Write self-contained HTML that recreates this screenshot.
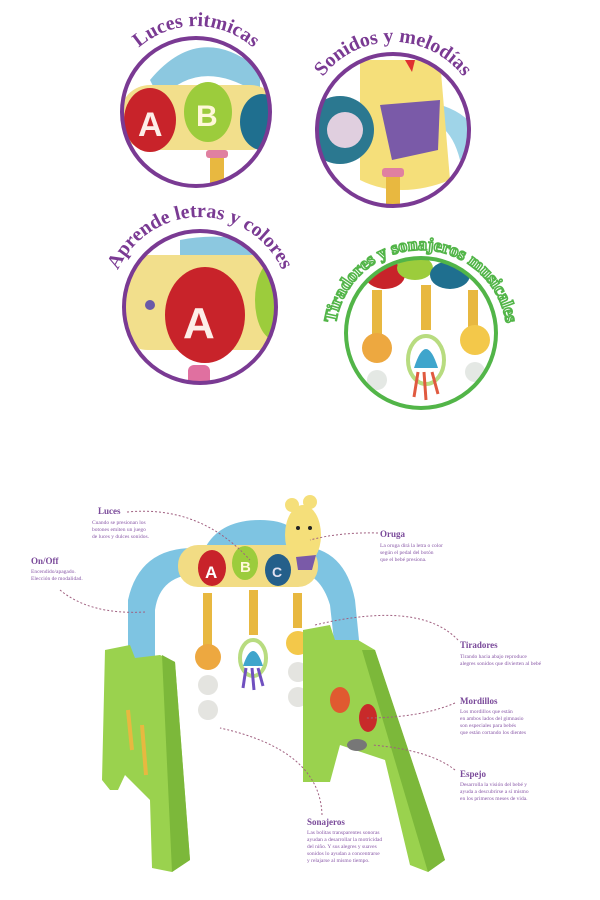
<!DOCTYPE html>
<html><head><meta charset="utf-8"><style>
html,body{margin:0;padding:0;background:#fff;}
svg{display:block}
.t{font-family:"Liberation Serif",serif;font-weight:bold;fill:#7a3a93;}
.h{font-family:"Liberation Serif",serif;font-weight:bold;fill:#7a4a9a;font-size:9px}
.s{font-family:"Liberation Serif",serif;fill:#8a5aa8;font-size:5.5px}
.d{fill:none;stroke:#a06080;stroke-width:1;stroke-dasharray:2 2}
</style></head><body>
<svg width="600" height="900" viewBox="0 0 600 900" xmlns="http://www.w3.org/2000/svg">
<defs>
<path id="a1" d="M110,112 A86,86 0 0 1 282,112"/>
<path id="a2" d="M305,130 A88,88 0 0 1 481,130"/>
<path id="a3" d="M122,352 A90,90 0 1 1 278,352"/>
<path id="a4" d="M346,378 A86,86 0 1 1 496,378"/>
<clipPath id="c1"><circle cx="196" cy="112" r="73"/></clipPath>
<clipPath id="c2"><circle cx="393" cy="130" r="76"/></clipPath>
<clipPath id="c3"><circle cx="200" cy="307" r="76"/></clipPath>
<clipPath id="c4"><circle cx="421" cy="333" r="75"/></clipPath>
</defs>

<!-- circle 1 -->
<g clip-path="url(#c1)">
<rect x="110" y="30" width="180" height="170" fill="#fff"/>
<path d="M150,80 Q200,20 260,70 L260,95 Q200,55 160,100Z" fill="#8cc8e0"/>
<rect x="120" y="85" width="160" height="65" rx="30" fill="#f2df8c"/>
<ellipse cx="150" cy="120" rx="26" ry="32" fill="#c8232a"/>
<ellipse cx="208" cy="112" rx="24" ry="30" fill="#9ccc3c"/>
<ellipse cx="262" cy="122" rx="22" ry="28" fill="#1f6f8f"/>
<text x="138" y="136" font-family="Liberation Sans" font-weight="bold" font-size="34" fill="#fdeee8">A</text>
<text x="196" y="126" font-family="Liberation Sans" font-weight="bold" font-size="30" fill="#fff8d8">B</text>
<rect x="210" y="155" width="14" height="40" fill="#e8b840"/>
<rect x="206" y="150" width="22" height="8" rx="3" fill="#e080a0"/>
</g>
<circle cx="196" cy="112" r="74" fill="none" stroke="#7a3a93" stroke-width="4"/>
<text class="t" font-size="20"><textPath href="#a1" startOffset="50%" text-anchor="middle">Luces ritmicas</textPath></text>

<!-- circle 2 -->
<g clip-path="url(#c2)">
<rect x="310" y="50" width="170" height="170" fill="#fff"/>
<path d="M420,100 Q480,110 480,150 L460,160 Q450,120 420,120Z" fill="#9fd4e8"/>
<path d="M360,60 L440,60 L450,180 Q400,200 360,180Z" fill="#f5df7a"/>
<circle cx="340" cy="130" r="34" fill="#2b7890"/>
<circle cx="345" cy="130" r="18" fill="#f4d8e8" opacity="0.9"/>
<path d="M380,105 L440,100 L438,150 L392,160Z" fill="#7a5aa8"/>
<path d="M405,60 l10,0 l-3,12 z" fill="#e03030"/>
<rect x="386" y="175" width="14" height="40" fill="#e8b840"/>
<rect x="382" y="168" width="22" height="9" rx="3" fill="#e080a0"/>
</g>
<circle cx="393" cy="130" r="76" fill="none" stroke="#7a3a93" stroke-width="4"/>
<text class="t" font-size="20"><textPath href="#a2" startOffset="50%" text-anchor="middle">Sonidos y melodías</textPath></text>

<!-- circle 3 -->
<g clip-path="url(#c3)">
<rect x="120" y="225" width="170" height="170" fill="#fff"/>
<path d="M180,240 Q230,230 280,250 L280,270 Q230,255 180,260Z" fill="#8cc8e0"/>
<rect x="118" y="255" width="170" height="95" rx="30" fill="#f2df8c"/>
<ellipse cx="205" cy="315" rx="40" ry="48" fill="#c8232a"/>
<ellipse cx="275" cy="300" rx="20" ry="40" fill="#9ccc3c"/>
<circle cx="150" cy="305" r="5" fill="#6a5aa8"/>
<text x="183" y="338" font-family="Liberation Sans" font-weight="bold" font-size="44" fill="#fdeee8">A</text>
<rect x="188" y="365" width="22" height="30" rx="6" fill="#e070a0"/>
</g>
<circle cx="200" cy="307" r="76" fill="none" stroke="#7a3a93" stroke-width="4"/>
<text class="t" font-size="20"><textPath href="#a3" startOffset="50%" text-anchor="middle">Aprende letras y colores</textPath></text>

<!-- circle 4 -->
<g clip-path="url(#c4)">
<rect x="340" y="255" width="170" height="160" fill="#fff"/>
<ellipse cx="385" cy="275" rx="20" ry="14" fill="#c8232a"/>
<ellipse cx="415" cy="268" rx="18" ry="12" fill="#9ccc3c"/>
<ellipse cx="450" cy="275" rx="20" ry="14" fill="#1f6f8f"/>
<rect x="372" y="290" width="10" height="45" fill="#e8b840"/>
<rect x="421" y="285" width="10" height="45" fill="#e8b840"/>
<rect x="468" y="290" width="10" height="45" fill="#e8b840"/>
<circle cx="377" cy="348" r="15" fill="#eda840"/>
<circle cx="475" cy="340" r="15" fill="#f3c84a"/>
<ellipse cx="426" cy="360" rx="18" ry="24" fill="none" stroke="#b8dc80" stroke-width="4"/>
<path d="M414,368 Q426,330 438,368Z" fill="#3fa5cc"/>
<circle cx="377" cy="380" r="10" fill="#e4e8e4"/>
<circle cx="475" cy="372" r="10" fill="#e4e8e4"/>
<path d="M418,372 l-4,25 M424,372 l2,28 M432,372 l6,22" stroke="#e05a40" stroke-width="3"/>
</g>
<circle cx="421" cy="333" r="75" fill="none" stroke="#52b548" stroke-width="4"/>
<text font-family="Liberation Serif" font-weight="bold" font-size="18" fill="#fff" stroke="#52b548" stroke-width="1.6"><textPath href="#a4" startOffset="50%" text-anchor="middle">Tiradores y sonajeros musicales</textPath></text>

<!-- toy -->
<path d="M128,690 L128,600 Q140,545 200,548 L300,546 Q345,548 355,600 L360,650 L335,650 L330,605 Q320,572 295,572 L200,574 Q160,574 155,610 L155,690Z" fill="#7ec4e2"/>
<path d="M205,548 Q220,520 260,520 Q300,520 300,548Z" fill="#7ec4e2"/>
<rect x="178" y="545" width="140" height="42" rx="20" fill="#f2dc84"/>
<ellipse cx="212" cy="568" rx="14" ry="18" fill="#c8232a"/>
<ellipse cx="245" cy="563" rx="13" ry="17" fill="#9ccc3c"/>
<ellipse cx="278" cy="570" rx="13" ry="16" fill="#245f8a"/>
<text x="205" y="578" font-family="Liberation Sans" font-weight="bold" font-size="17" fill="#fff">A</text>
<text x="240" y="572" font-family="Liberation Sans" font-weight="bold" font-size="15" fill="#fff8d8">B</text>
<text x="272" y="577" font-family="Liberation Sans" font-weight="bold" font-size="14" fill="#e0e0f0">C</text>
<ellipse cx="303" cy="535" rx="18" ry="30" fill="#f5df7a"/>
<circle cx="292" cy="505" r="7" fill="#f5df7a"/><circle cx="310" cy="502" r="7" fill="#f5df7a"/>
<path d="M296,557 L316,555 L312,570 L298,570Z" fill="#7a5aa8"/>
<circle cx="298" cy="528" r="2" fill="#222"/><circle cx="310" cy="528" r="2" fill="#222"/>
<!-- hangers -->
<rect x="203" y="593" width="9" height="52" fill="#e8b840"/>
<rect x="249" y="590" width="9" height="45" fill="#e8b840"/>
<rect x="293" y="593" width="9" height="35" fill="#e8b840"/>
<circle cx="208" cy="657" r="13" fill="#eda840"/>
<circle cx="298" cy="643" r="12" fill="#f3c84a"/>
<circle cx="208" cy="685" r="10" fill="#e4e4e0"/><circle cx="208" cy="710" r="10" fill="#e4e4e0"/>
<circle cx="298" cy="672" r="10" fill="#e4e4e0"/><circle cx="298" cy="697" r="10" fill="#e4e4e0"/>
<ellipse cx="253" cy="658" rx="13" ry="18" fill="none" stroke="#b8dc80" stroke-width="4"/>
<path d="M243,666 Q253,636 263,666Z" fill="#3fa5cc"/>
<path d="M246,668 l-3,20 M252,668 l2,22 M258,668 l5,18" stroke="#7050c0" stroke-width="3"/>
<!-- legs -->
<path d="M105,650 L130,645 L135,658 L160,655 L175,662 L190,860 L172,872 L152,868 L150,800 L125,775 L118,790 L110,790 L102,780 Z" fill="#9ad24e"/>
<path d="M303,630 L330,625 L335,640 L358,640 L375,650 L445,860 L428,872 L410,865 L385,760 L340,745 L330,782 L303,782Z" fill="#9ad24e"/>
<path d="M162,655 L175,662 L190,860 L172,872Z" fill="#7cb83a"/>
<path d="M375,650 L445,860 L428,872 L362,650Z" fill="#7cb83a"/>
<ellipse cx="357" cy="745" rx="10" ry="6" fill="#777"/>
<ellipse cx="340" cy="700" rx="10" ry="13" fill="#e05a30"/>
<ellipse cx="368" cy="718" rx="9" ry="14" fill="#c82a2a"/>
<path d="M128,710 l4,40 M142,725 l4,50" stroke="#e8b840" stroke-width="4"/>

<!-- dotted connectors -->
<path class="d" d="M127,512 Q200,505 250,560"/>
<path class="d" d="M60,590 Q90,615 145,612"/>
<path class="d" d="M378,533 Q340,532 310,540"/>
<path class="d" d="M458,640 Q420,600 315,625"/>
<path class="d" d="M455,703 Q420,718 365,718"/>
<path class="d" d="M455,770 Q430,750 372,745"/>
<path class="d" d="M322,815 Q320,750 220,728"/>

<!-- labels -->
<text class="h" x="98" y="514">Luces</text>
<text class="s" x="92" y="524">Cuando se presionan los</text>
<text class="s" x="92" y="531">botones emiten un juego</text>
<text class="s" x="92" y="538">de luces y dulces sonidos.</text>
<text class="h" x="31" y="564">On/Off</text>
<text class="s" x="31" y="573">Encendido/apagado.</text>
<text class="s" x="31" y="580">Elección de modalidad.</text>
<text class="h" x="380" y="537">Oruga</text>
<text class="s" x="380" y="547">La oruga dirá la letra o color</text>
<text class="s" x="380" y="554">según el pedal del botón</text>
<text class="s" x="380" y="561">que el bebé presiona.</text>
<text class="h" x="460" y="648">Tiradores</text>
<text class="s" x="460" y="658">Tirando hacia abajo reproduce</text>
<text class="s" x="460" y="665">alegres sonidos que divierten al bebé</text>
<text class="h" x="460" y="704">Mordillos</text>
<text class="s" x="460" y="713">Los mordillos que están</text>
<text class="s" x="460" y="720">en ambos lados del gimnasio</text>
<text class="s" x="460" y="727">son especiales para bebés</text>
<text class="s" x="460" y="734">que están cortando los dientes</text>
<text class="h" x="460" y="777">Espejo</text>
<text class="s" x="460" y="786">Desarrolla la visión del bebé y</text>
<text class="s" x="460" y="793">ayuda a descubrirse a sí mismo</text>
<text class="s" x="460" y="800">en los primeros meses de vida.</text>
<text class="h" x="307" y="825">Sonajeros</text>
<text class="s" x="307" y="834">Las bolitas transparentes sonoras</text>
<text class="s" x="307" y="841">ayudan a desarrollar la motricidad</text>
<text class="s" x="307" y="848">del niño. Y sus alegres y suaves</text>
<text class="s" x="307" y="855">sonidos lo ayudan a concentrarse</text>
<text class="s" x="307" y="862">y relajarse al mismo tiempo.</text>
</svg>
</body></html>
